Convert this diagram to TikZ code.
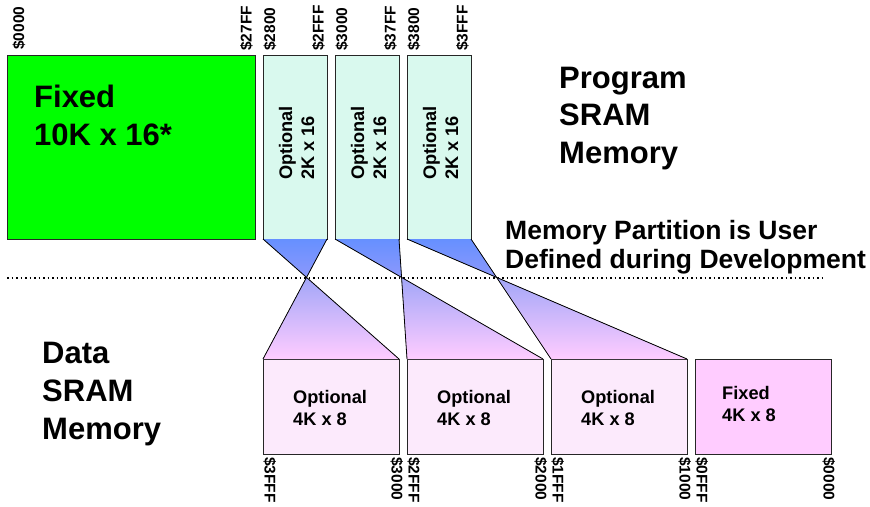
\documentclass[tikz,border=0pt]{standalone}
\usepackage{fontspec}
\setmainfont{Liberation Sans}
\usetikzlibrary{calc}

\definecolor{fixgreen}{HTML}{00FF00}
\definecolor{progopt}{HTML}{D9F9EE}
\definecolor{dataopt}{HTML}{FCEAFC}
\definecolor{datafix}{HTML}{FFCCFF}
\definecolor{bowtop}{HTML}{6690FF}
\definecolor{bowmid}{HTML}{8C98FC}
\definecolor{bowmidlow}{HTML}{A2A6F8}
\definecolor{bowbot}{HTML}{FFCCFF}

\tikzset{
  membox/.style={draw=black!85, line width=0.9pt, inner sep=0pt, outer sep=0pt, rectangle},
  progbox/.style={membox, fill=progopt, minimum width=64pt, minimum height=184pt},
  databox/.style={membox, fill=dataopt, minimum width=136pt, minimum height=95pt},
  link/.style={draw=black, line width=0.8pt},
  addrup/.style={font=\fontsize{15.5}{17}\selectfont\bfseries, inner sep=0pt, rotate=90, anchor=base west},
  addrdown/.style={font=\fontsize{15.5}{17}\selectfont\bfseries, inner sep=0pt, rotate=-90, anchor=base west},
  bigtext/.style={font=\fontsize{31}{36}\selectfont\bfseries, inner sep=0pt, anchor=base west},
  notetext/.style={font=\fontsize{26.5}{30}\selectfont\bfseries, inner sep=0pt, anchor=base west},
  boxtext/.style={font=\fontsize{18.2}{22}\selectfont\bfseries, inner sep=0pt, anchor=base west},
  boxtextup/.style={boxtext, rotate=90},
}

\begin{document}
\begin{tikzpicture}[x=1pt, y=-1pt]
\useasboundingbox (0,0) rectangle (870,506);

% ---- program memory blocks ----
\node[membox, fill=fixgreen, minimum width=248pt, minimum height=184pt] (pfix) at (131,147) {};
\node[progbox] (p1) at (295,147) {};
\node[progbox] (p2) at (367,147) {};
\node[progbox] (p3) at (439,147) {};

% ---- data memory blocks ----
\node[databox] (d1) at (331,406.5) {};
\node[databox] (d2) at (475,406.5) {};
\node[databox] (d3) at (619,406.5) {};
\node[membox, fill=datafix, minimum width=136pt, minimum height=95pt] (dfix) at (763,406.5) {};

% ---- partition boundary ----
\coordinate (sepL) at (7,278);
\coordinate (sepR) at (823,278);
\draw[line width=1.6pt, dash pattern=on 1.6pt off 2.9pt] (sepL) -- (sepR);

% ---- mapping of each optional program block to a data block ----
\foreach \i in {1,2,3}{
  \coordinate (x\i) at (intersection of p\i.south west--d\i.north east and p\i.south east--d\i.north west);
  \fill[top color=bowtop, bottom color=bowmid] (p\i.south west) -- (p\i.south east) -- (x\i) -- cycle;
  \fill[top color=bowmidlow, bottom color=bowbot] (x\i) -- (d\i.north east) -- (d\i.north west) -- cycle;
  \draw[link] (p\i.south west) -- (d\i.north east);
  \draw[link] (p\i.south east) -- (d\i.north west);
}

% ---- block contents ----
\node[bigtext] (fx1) at (34,107) {Fixed};
\node[bigtext] (fx2) at (34,145) {10K x 16*};

\node[boxtextup] (po1a) at (292,180) {Optional};
\node[boxtextup] (po1b) at (314,180) {2K x 16};
\node[boxtextup] (po2a) at (364,180) {Optional};
\node[boxtextup] (po2b) at (386,180) {2K x 16};
\node[boxtextup] (po3a) at (436,180) {Optional};
\node[boxtextup] (po3b) at (458,180) {2K x 16};

\node[boxtext] (do1a) at (293,403) {Optional};
\node[boxtext] (do1b) at (293,425) {4K x 8};
\node[boxtext] (do2a) at (437,403) {Optional};
\node[boxtext] (do2b) at (437,425) {4K x 8};
\node[boxtext] (do3a) at (581,403) {Optional};
\node[boxtext] (do3b) at (581,425) {4K x 8};
\node[boxtext] (df1) at (722,399) {Fixed};
\node[boxtext] (df2) at (722,421) {4K x 8};

% ---- titles ----
\node[bigtext] (pt1) at (559,88) {Program};
\node[bigtext] (pt2) at (559,125.5) {SRAM};
\node[bigtext] (pt3) at (559,163) {Memory};

\node[bigtext] (dt1) at (42,363) {Data};
\node[bigtext] (dt2) at (42,401) {SRAM};
\node[bigtext] (dt3) at (42,439) {Memory};

\node[notetext] (n1) at (505,239) {Memory Partition is User};
\node[notetext] (n2) at (505,268) {Defined during Development};

% ---- program addresses ----
\node[addrup] (a0) at (24,50) {\$0000};
\node[addrup] (a1) at (251.5,51) {\$27FF};
\node[addrup] (a2) at (275,51) {\$2800};
\node[addrup] (a3) at (323.5,51) {\$2FFF};
\node[addrup] (a4) at (347,51) {\$3000};
\node[addrup] (a5) at (395.5,51) {\$37FF};
\node[addrup] (a6) at (419,51) {\$3800};
\node[addrup] (a7) at (467.5,51) {\$3FFF};

% ---- data addresses ----
\node[addrdown] (b0) at (264.5,457) {\$3FFF};
\node[addrdown] (b1) at (391.5,457) {\$3000};
\node[addrdown] (b2) at (408.5,457) {\$2FFF};
\node[addrdown] (b3) at (535.5,457) {\$2000};
\node[addrdown] (b4) at (552.5,457) {\$1FFF};
\node[addrdown] (b5) at (679.5,457) {\$1000};
\node[addrdown] (b6) at (696.5,457) {\$0FFF};
\node[addrdown] (b7) at (823.5,457) {\$0000};
\end{tikzpicture}
\end{document}
